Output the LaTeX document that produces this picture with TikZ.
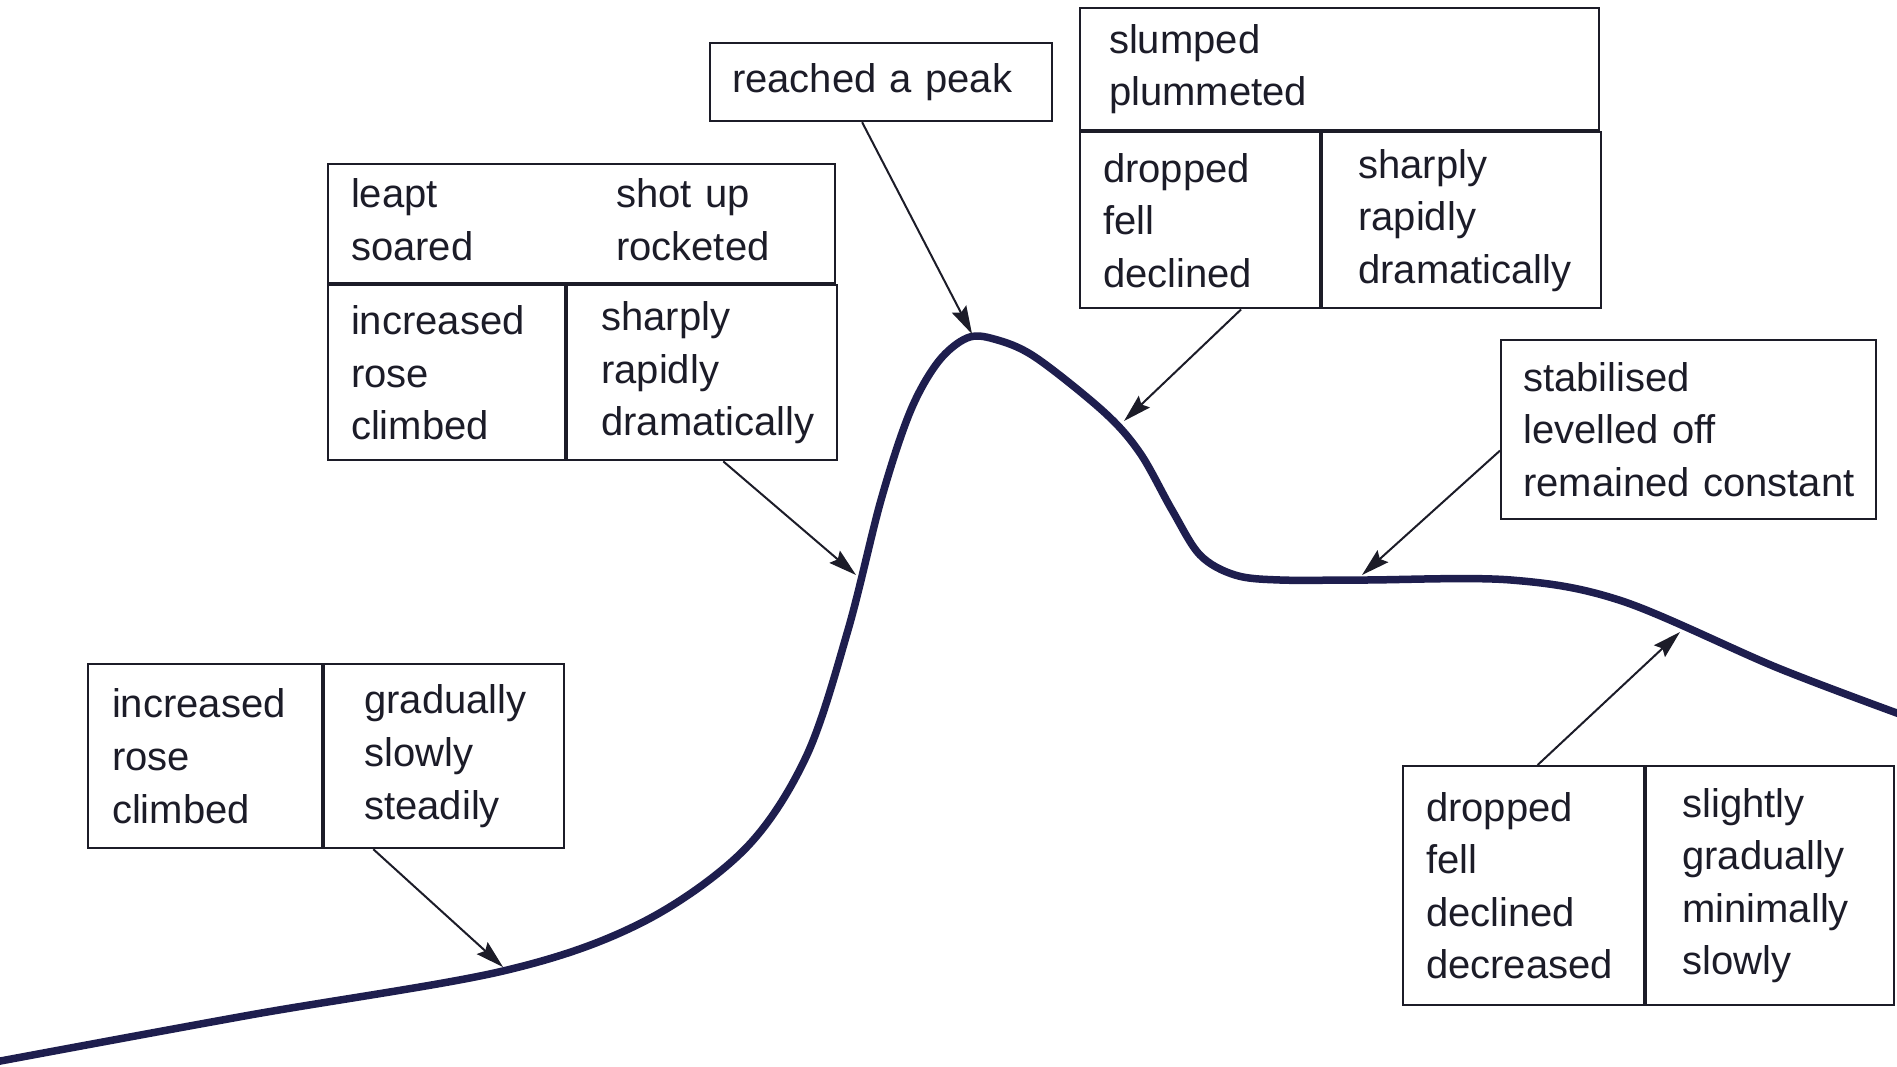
\documentclass[tikz,border=0pt]{standalone}
\usepackage{fontspec}
\setmainfont{Liberation Sans}
\usetikzlibrary{arrows.meta,positioning,calc}
\definecolor{ink}{RGB}{28,28,40}
\definecolor{curveink}{RGB}{30,30,78}

\begin{document}
\begin{tikzpicture}[x=1pt,y=-1pt,
  cell/.style={draw=ink, line width=2.2pt, anchor=north west, inner sep=0pt, align=left, text=ink,
    font=\fontsize{40}{52.6}\selectfont, execute at begin node={\leftskip=#1\relax}},
  cell/.default=23pt,
  pointer/.style={draw=ink, line width=2pt, -{Stealth[length=28pt,width=16pt,inset=4pt]}},
  trend/.style={draw=curveink, line width=7.5pt, line cap=round}]

\fill[white] (0,0) rectangle (1897,1066);
\useasboundingbox (0,0) rectangle (1897,1066);

% Curve
\draw[trend] plot[smooth, tension=0.55] coordinates {(-5,1062) (250,1015) (503,971) (641,923) (744,850)
  (806,757) (848,630) (881,500) (910,412) (938,362) (967,338) (994,339) (1035,357) (1104,412) (1140,453)
  (1172,510) (1200,555) (1235,575) (1280,580) (1364,580) (1511,580) (1622,601) (1778,668) (1905,716)};

\coordinate (gentle) at (503,967);
\coordinate (steep) at (856,575);
\coordinate (top) at (972,334);
\coordinate (fall) at (1124,421);
\coordinate (flat) at (1362,575);
\coordinate (ease) at (1680,632);

% Boxes
\node[cell=22pt, text width=342pt, minimum height=78pt] (peak) at (709,42) {reached a peak};

\node[cell, text width=507pt, minimum height=119pt] (upHead) at (327,163)
  {\begin{tabular}{@{}p{265pt}@{}l@{}}leapt & shot up\\ soared & rocketed\end{tabular}};
\node[cell, text width=237pt, minimum height=175pt] (upL) at (upHead.south west) {increased\\rose\\climbed};
\node[cell=34pt, text width=270pt, minimum height=175pt] (upR) at (upL.north east) {sharply\\rapidly\\dramatically};

\node[cell=29pt, text width=519pt, minimum height=122pt] (downHead) at (1079,7) {slumped\\plummeted};
\node[cell, text width=240pt, minimum height=176pt] (downL) at (downHead.south west) {dropped\\fell\\declined};
\node[cell=36pt, text width=279pt, minimum height=176pt] (downR) at (downL.north east) {sharply\\rapidly\\dramatically};

\node[cell=22pt, text width=375pt, minimum height=179pt] (steady) at (1500,339) {stabilised\\levelled off\\remained constant};

\node[cell=24pt, text width=234pt, minimum height=184pt] (slowL) at (87,663) {increased\\rose\\climbed};
\node[cell=40pt, text width=240pt, minimum height=184pt] (slowR) at (slowL.north east) {gradually\\slowly\\steadily};

\node[cell, text width=241pt, minimum height=239pt] (dipL) at (1402,765) {dropped\\fell\\declined\\decreased};
\node[cell=36pt, text width=248pt, minimum height=239pt] (dipR) at (dipL.north east) {slightly\\gradually\\minimally\\slowly};

% Arrows
\draw[pointer] ([xshift=-19pt]peak.south) -- (top);
\draw[pointer] ([xshift=21pt]upR.south) -- (steep);
\draw[pointer] ([xshift=41pt]downL.south) -- (fall);
\draw[pointer] ([yshift=-21pt]steady.west) -- (flat);
\draw[pointer] ([xshift=-71pt]slowR.south) -- (gentle);
\draw[pointer] ([xshift=14pt]dipL.north) -- (ease);

\end{tikzpicture}
\end{document}
